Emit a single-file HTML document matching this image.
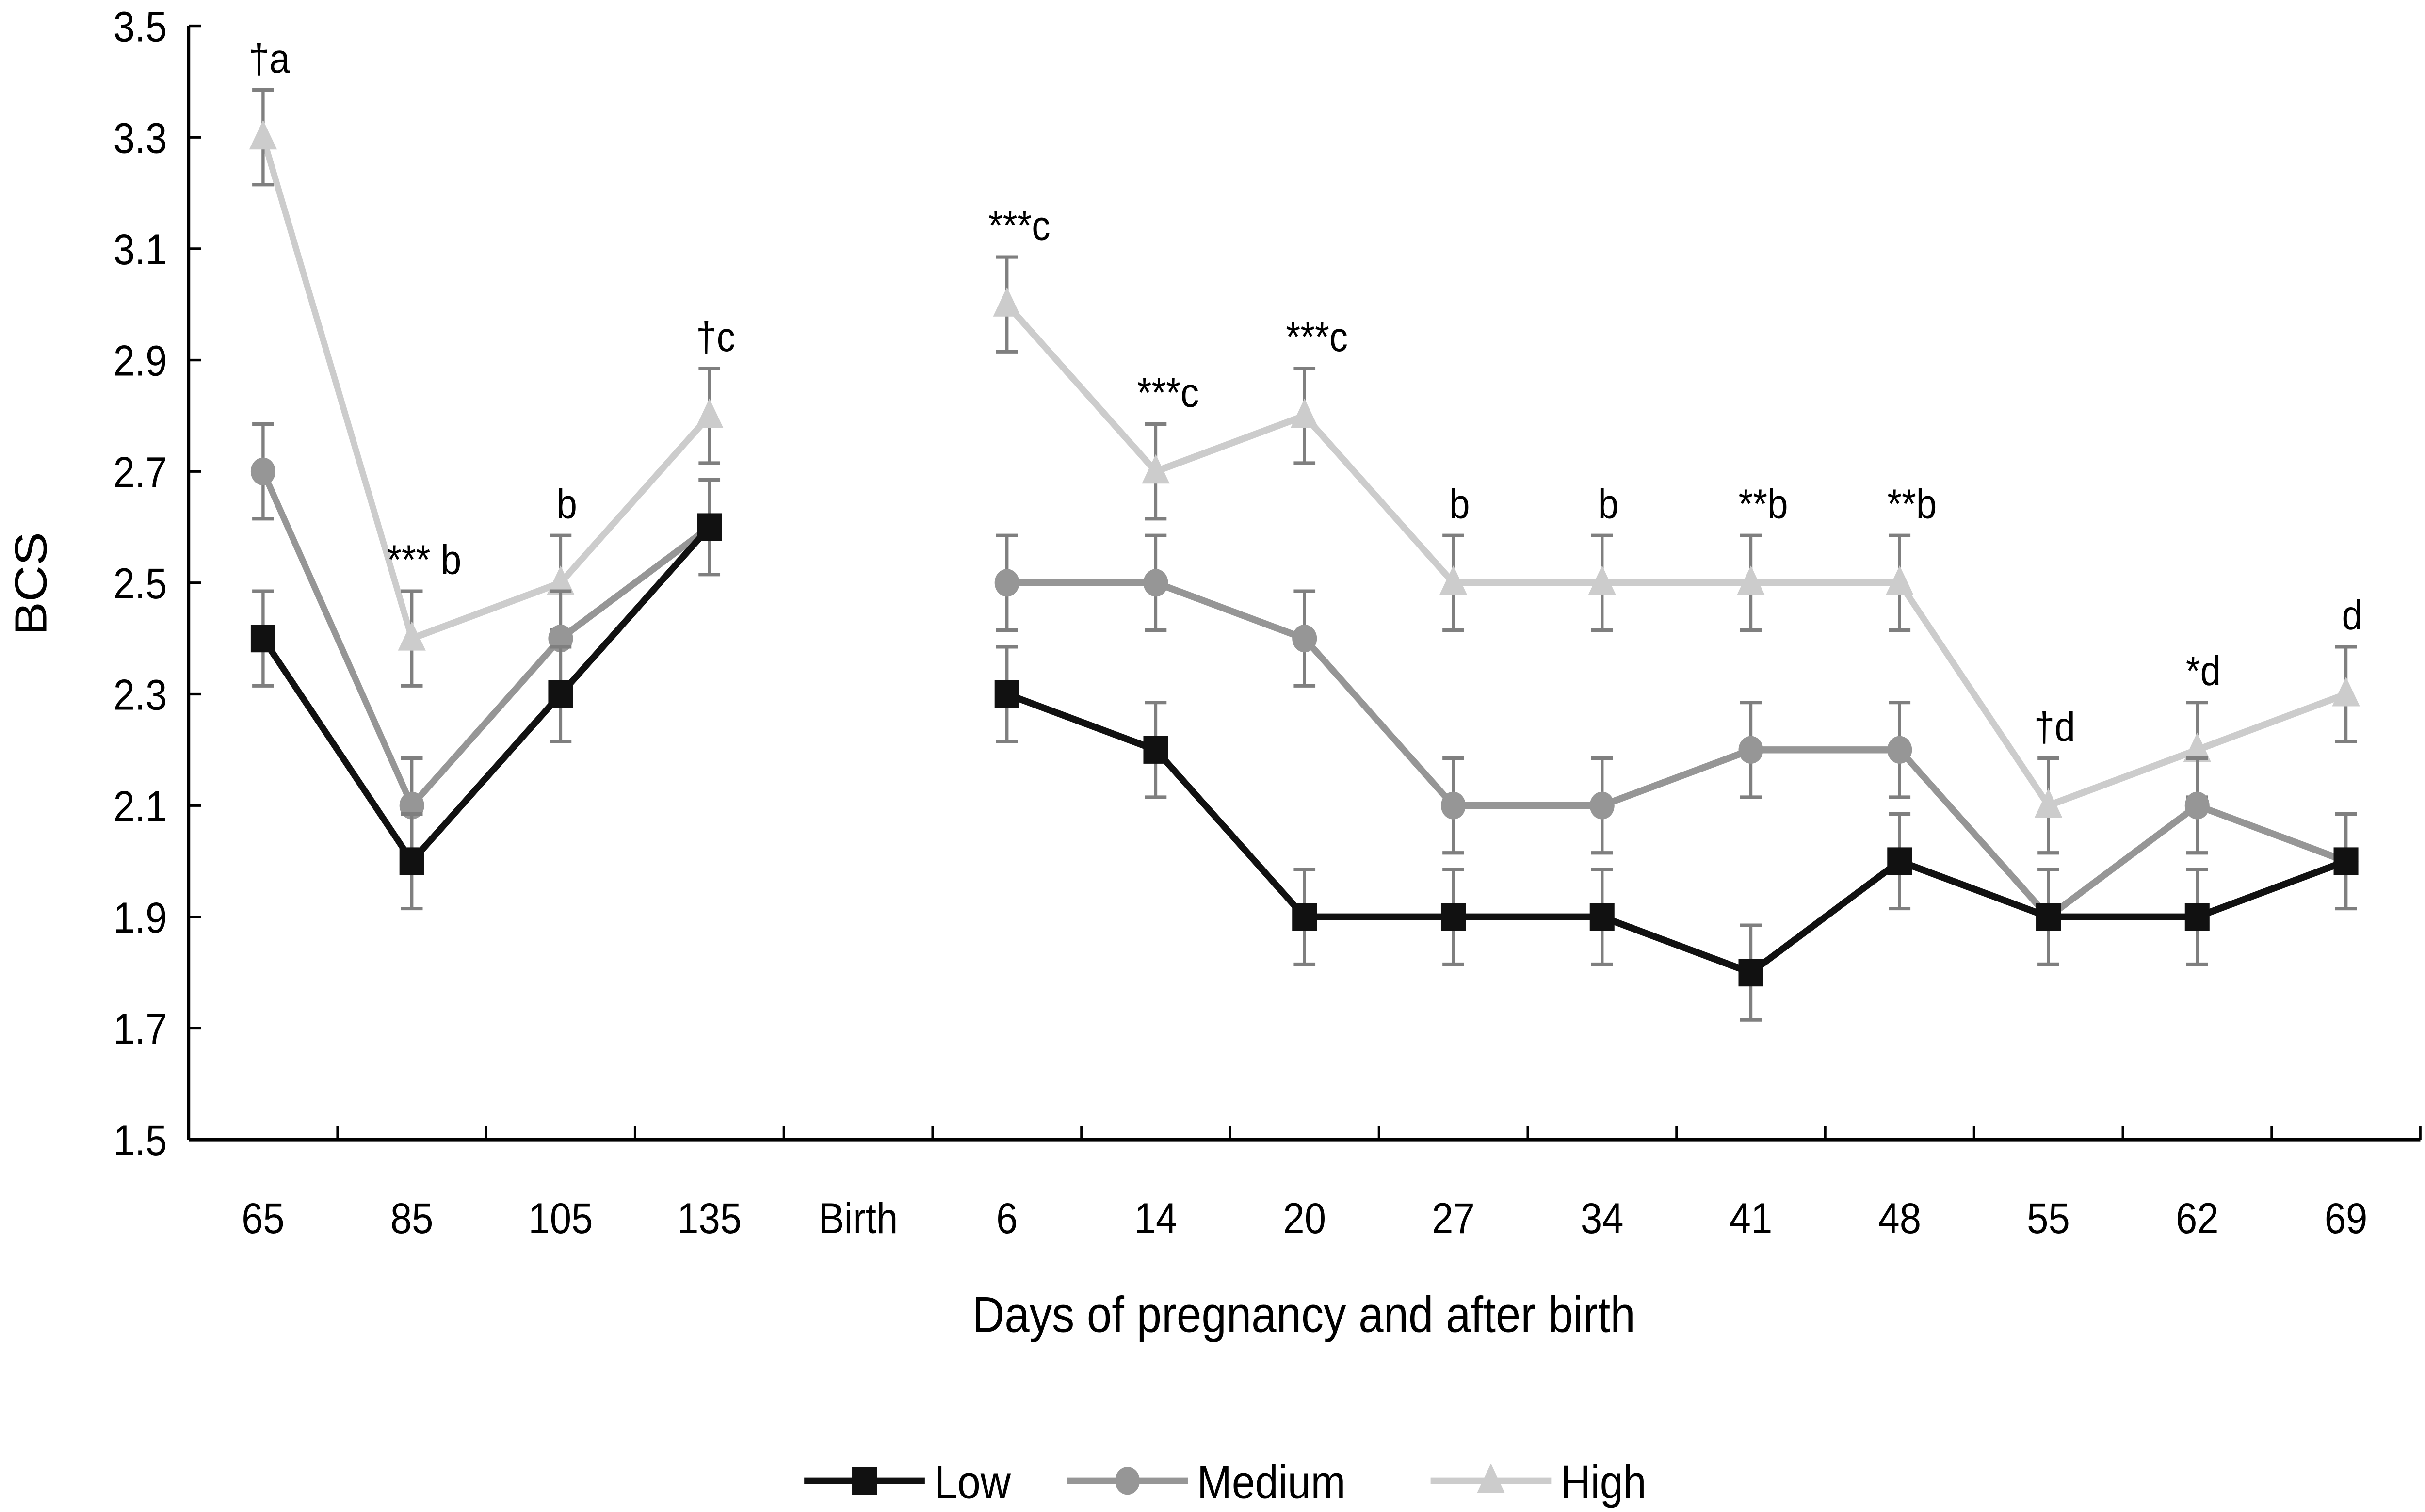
<!DOCTYPE html>
<html><head><meta charset="utf-8"><style>html,body{margin:0;padding:0;background:#fff;width:100vw;height:100vh;overflow:hidden}svg{display:block;position:absolute;left:0;top:0;width:100vw;height:100vh}text{font-family:"Liberation Sans",sans-serif}</style></head>
<body>
<svg id="chart" viewBox="0 0 1568 873" preserveAspectRatio="none" xmlns="http://www.w3.org/2000/svg"></svg>
<script>
const categories=["65","85","105","135","Birth","6","14","20","27","34","41","48","55","62","69"];
const lowValues=[2.4,2.0,2.3,2.6,null,2.3,2.2,1.9,1.9,1.9,1.8,2.0,1.9,1.9,2.0];
const mediumValues=[2.7,2.1,2.4,2.6,null,2.5,2.5,2.4,2.1,2.1,2.2,2.2,1.9,2.1,2.0];
const highValues=[3.3,2.4,2.5,2.8,null,3.0,2.7,2.8,2.5,2.5,2.5,2.5,2.1,2.2,2.3];
const errorValue=0.085;
const annotations=["†a","*** b","b","†c","","***c","***c","***c","b","b","**b","**b","†d","*d","d"];
const yTicks=[1.5,1.7,1.9,2.1,2.3,2.5,2.7,2.9,3.1,3.3,3.5];

const NS="http://www.w3.org/2000/svg";
const svg=document.getElementById('chart');
const L=122,R=1565,T=15,B=658,yMin=1.5,yMax=3.5;
const bw=(R-L)/categories.length;
const xs=i=>L+bw*(i+0.5);
const ys=v=>B-(v-yMin)/(yMax-yMin)*(B-T);
function mk(tag,attrs,parent){const e=document.createElementNS(NS,tag);for(const k in attrs)e.setAttribute(k,attrs[k]);(parent||svg).appendChild(e);return e;}

let ax=mk('line',{x1:L,y1:T,x2:L,y2:B,stroke:'#000','stroke-width':2});


ax=mk('line',{x1:L,y1:B,x2:R,y2:B,stroke:'#000','stroke-width':2});


yTicks.forEach(v=>{
  mk('line',{x1:L,y1:ys(v),x2:L+8,y2:ys(v),stroke:'#000','stroke-width':1.5});
  const t=mk('text',{x:L-14,y:ys(v)+9,'text-anchor':'end','font-size':25});
  t.textContent=v.toFixed(1);
  
  
});
for(let i=0;i<=categories.length;i++){
  mk('line',{x1:L+bw*i,y1:B,x2:L+bw*i,y2:B-8,stroke:'#000','stroke-width':1.5});
}
categories.forEach((c,i)=>{
  const t=mk('text',{x:xs(i),y:712,'text-anchor':'middle','font-size':25});
  t.textContent=c;
  
  
});
let t=mk('text',{x:843,y:769,'text-anchor':'middle','font-size':29});
t.textContent='Days of pregnancy and after birth';


t=mk('text',{x:0,y:0,'text-anchor':'middle','font-size':29,transform:'translate(30,337) rotate(-90)'});
t.textContent='BCS';



function marker(type,x,y,color,g){
  if(type==='square')return mk('rect',{x:x-8,y:y-8,width:16,height:16,fill:color},g);
  if(type==='circle')return mk('circle',{cx:x,cy:y,r:8,fill:color},g);
  return mk('polygon',{points:`${x},${y-10} ${x+9},${y+7} ${x-9},${y+7}`,fill:color},g);
}
function series(name,vals,color,type){
  const g=mk('g',{});
  
  
  [[0,4],[5,15]].forEach(([a,b])=>{
    const pts=[];for(let i=a;i<b;i++)if(vals[i]!=null)pts.push(xs(i)+','+ys(vals[i]));
    mk('polyline',{points:pts.join(' '),fill:'none',stroke:color,'stroke-width':4,'stroke-linejoin':'round'},g);
  });
  vals.forEach((v,i)=>{
    if(v==null)return;
    const x=xs(i),y1=ys(v+errorValue),y2=ys(v-errorValue);
    mk('path',{d:`M${x},${y1}V${y2}M${x-7},${y1}H${x+7}M${x-7},${y2}H${x+7}`,stroke:'#7f7f7f','stroke-width':2,fill:'none'},g);
  });
  vals.forEach((v,i)=>{
    if(v==null)return;
    const m=marker(type,xs(i),ys(v),color,g);
    
    
  });
}
series('high',highValues,'#cccccc','tri');
series('medium',mediumValues,'#969696','circle');
series('low',lowValues,'#111111','square');
annotations.forEach((a,i)=>{
  if(!a)return;
  const a1=mk('text',{x:xs(i)+(a.length>2?8:4),y:ys(highValues[i]+errorValue)-10,'text-anchor':'middle','font-size':24});
  a1.textContent=a;
  
  
});

const leg=[['Low','#111111','square',520],['Medium','#969696','circle',690],['High','#cccccc','tri',925]];
leg.forEach(([n,c,ty,x0])=>{
  const g=mk('g',{});
  
  
  mk('line',{x1:x0,y1:855,x2:x0+78,y2:855,stroke:c,'stroke-width':4},g);
  marker(ty,x0+39,855,c,g);
  const lt=mk('text',{x:x0+84,y:865,'font-size':27},g);
  lt.textContent=n;
});
</script>
</body></html>
